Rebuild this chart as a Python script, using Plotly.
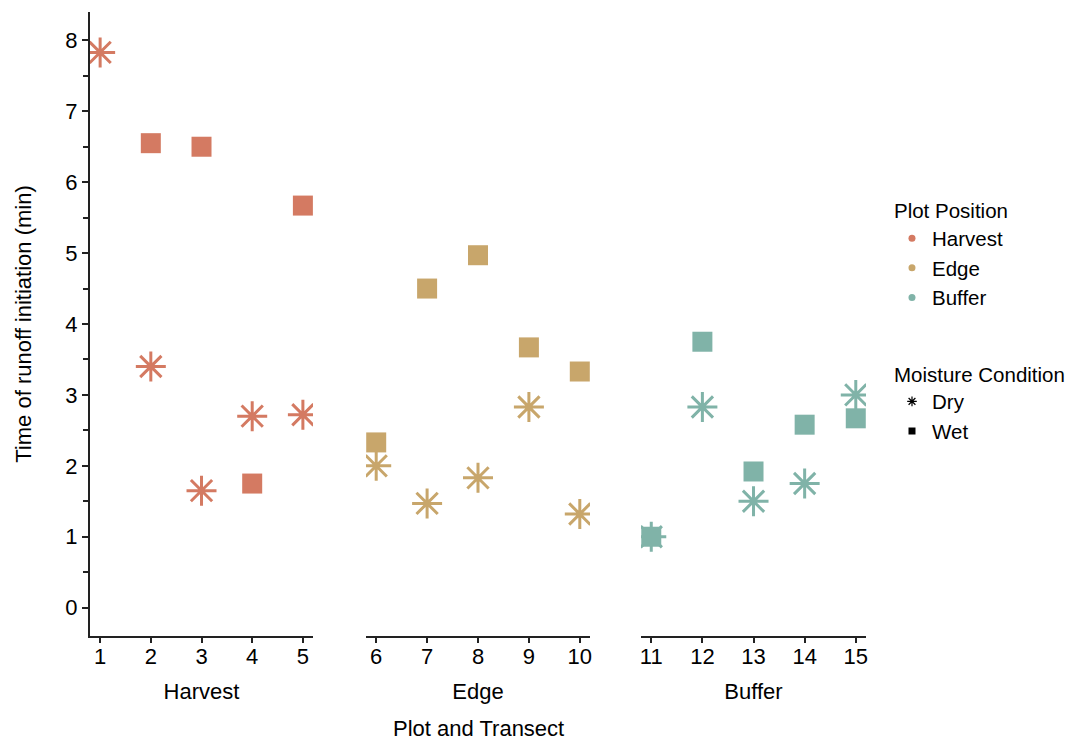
import plotly.graph_objects as go

# ---- data ----
positions = ["Harvest", "Edge", "Buffer"]
plot_ids = {
    "Harvest": [1, 2, 3, 4, 5],
    "Edge": [6, 7, 8, 9, 10],
    "Buffer": [11, 12, 13, 14, 15],
}
dry_time = {
    "Harvest": [7.83, 3.40, 1.65, 2.70, 2.72],
    "Edge": [2.00, 1.47, 1.83, 2.83, 1.32],
    "Buffer": [1.00, 2.83, 1.50, 1.75, 3.00],
}
wet_time = {
    "Harvest": [None, 6.55, 6.50, 1.75, 5.67],
    "Edge": [2.33, 4.50, 4.97, 3.67, 3.33],
    "Buffer": [1.00, 3.75, 1.92, 2.58, 2.67],
}
colors = {"Harvest": "#D47A62", "Edge": "#C8A66B", "Buffer": "#80B3A8"}
y_ticks = [0, 1, 2, 3, 4, 5, 6, 7, 8]

FONT = "Liberation Sans, Arial, sans-serif"
FS = 22
LFS = 20.5
AXC = "#222222"

fig = go.Figure()
axis_suffix = {"Harvest": "", "Edge": "2", "Buffer": "3"}

for pos in positions:
    s = axis_suffix[pos]
    fig.add_trace(go.Scatter(
        x=plot_ids[pos], y=dry_time[pos], mode="markers",
        xaxis="x" + s, yaxis="y" + s, showlegend=False,
        marker=dict(symbol="asterisk-open", size=25, color=colors[pos],
                    line=dict(width=3, color=colors[pos])),
        cliponaxis=True, hoverinfo="x+y"))
for pos in positions:
    s = axis_suffix[pos]
    fig.add_trace(go.Scatter(
        x=plot_ids[pos], y=wet_time[pos], mode="markers",
        xaxis="x" + s, yaxis="y" + s, showlegend=False,
        marker=dict(symbol="square", size=20, color=colors[pos],
                    line=dict(width=0)),
        cliponaxis=True, hoverinfo="x+y"))

# legend entries
for pos in positions:
    fig.add_trace(go.Scatter(
        x=[None], y=[None], mode="markers", name=pos, legend="legend",
        marker=dict(symbol="circle", size=7, color=colors[pos])))
fig.add_trace(go.Scatter(
    x=[None], y=[None], mode="markers", name="Dry", legend="legend2",
    marker=dict(symbol="asterisk-open", size=8, color="black",
                line=dict(width=1.2, color="black"))))
fig.add_trace(go.Scatter(
    x=[None], y=[None], mode="markers", name="Wet", legend="legend2",
    marker=dict(symbol="square", size=7, color="black")))

domains = {"Harvest": [0, 0.2874], "Edge": [0.3557, 0.6443], "Buffer": [0.7101, 1.0]}
layout = {}
for pos in positions:
    s = axis_suffix[pos]
    ids = plot_ids[pos]
    layout["xaxis" + s] = dict(
        domain=domains[pos], anchor="y" + s,
        range=[ids[0] - 0.2, ids[-1] + 0.2],
        tickvals=ids, ticktext=[str(v) for v in ids],
        showline=True, linecolor=AXC, linewidth=2,
        ticks="outside", ticklen=5, tickwidth=1.5, tickcolor=AXC,
        ticklabelstandoff=-5,
        showgrid=False, zeroline=False,
        tickfont=dict(family=FONT, size=FS, color="black"),
        title=dict(text=pos, standoff=15,
                   font=dict(family=FONT, size=FS, color="black")),
    )
layout["yaxis"] = dict(
    domain=[0, 1], anchor="x", range=[-0.4, 8.4],
    tickvals=y_ticks, ticktext=[str(v) for v in y_ticks],
    showline=True, linecolor=AXC, linewidth=2,
    ticks="outside", ticklen=6, tickwidth=1.5, tickcolor=AXC,
    minor=dict(dtick=0.5, tick0=0, ticks="outside", ticklen=5,
               tickwidth=1.5, tickcolor=AXC, showgrid=False),
    showgrid=False, zeroline=False,
    tickfont=dict(family=FONT, size=FS, color="black"),
    title=dict(text="Time of runoff initiation (min)", standoff=28,
               font=dict(family=FONT, size=FS, color="black")),
)
for s in ["2", "3"]:
    layout["yaxis" + s] = dict(domain=[0, 1], anchor="x" + s, matches="y",
                               range=[-0.4, 8.4], visible=False,
                               showgrid=False, zeroline=False)

fig.update_layout(
    **layout,
    width=1078, height=740,
    margin=dict(l=82, r=220, t=4, b=112),
    paper_bgcolor="white", plot_bgcolor="white",
    font=dict(family=FONT, size=FS, color="black"),
    legend=dict(
        title=dict(text="Plot Position", font=dict(family=FONT, size=LFS, color="black")),
        x=1.0335, y=0.712, xanchor="left", yanchor="top",
        font=dict(family=FONT, size=LFS, color="black"),
        bgcolor="rgba(0,0,0,0)", itemclick=False),
    legend2=dict(
        title=dict(text="Moisture Condition", font=dict(family=FONT, size=LFS, color="black")),
        x=1.0335, y=0.4505, xanchor="left", yanchor="top",
        font=dict(family=FONT, size=LFS, color="black"),
        bgcolor="rgba(0,0,0,0)", itemclick=False),
    annotations=[dict(text="Plot and Transect", xref="paper", yref="paper",
                      x=0.5, y=-0.148, xanchor="center", yanchor="middle",
                      showarrow=False,
                      font=dict(family=FONT, size=FS, color="black"))],
)

fig.write_html("out.html")
